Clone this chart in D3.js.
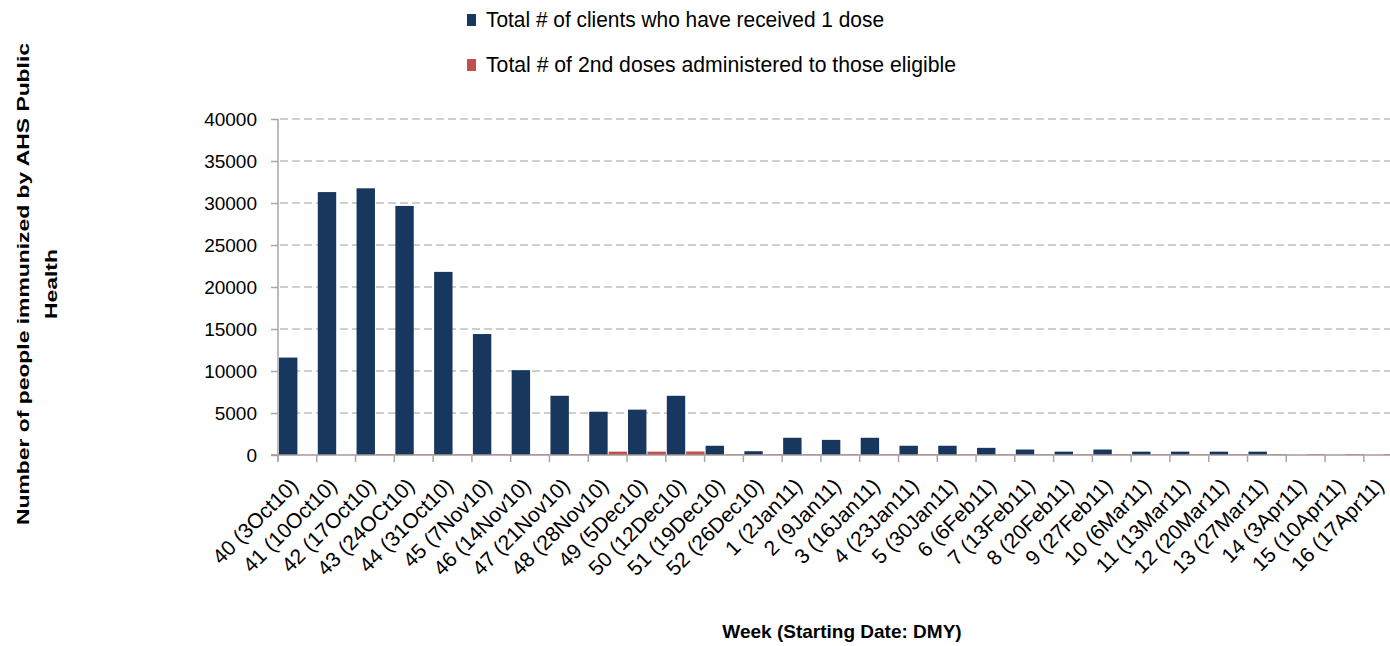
<!DOCTYPE html>
<html>
<head>
<meta charset="utf-8">
<script src="https://cdn.jsdelivr.net/npm/d3@7"></script>
<style>
  body { margin: 0; background: #fff; }
  svg { display: block; }
  text { font-family: "Liberation Sans", Arial, sans-serif; }
</style>
</head>
<body>
<div id="chart"></div>
<script>
// week labels (starting date DMY)
const weeks = ['40 (3Oct10)', '41 (10Oct10)', '42 (17Oct10)', '43 (24OCt10)', '44 (31Oct10)',
    '45 (7Nov10)', '46 (14Nov10)', '47 (21Nov10)', '48 (28Nov10)', '49 (5Dec10)', '50 (12Dec10)',
    '51 (19Dec10)', '52 (26Dec10)', '1 (2Jan11)', '2 (9Jan11)', '3 (16Jan11)', '4 (23Jan11)',
    '5 (30Jan11)', '6 (6Feb11)', '7 (13Feb11)', '8 (20Feb11)', '9 (27Feb11)', '10 (6Mar11)',
    '11 (13Mar11)', '12 (20Mar11)', '13 (27Mar11)', '14 (3Apr11)', '15 (10Apr11)', '16 (17Apr11)']

const firstDose = [11600, 31300, 31750, 29650, 21800, 14400, 10100, 7050, 5150, 5400, 7050,
    1100, 450, 2050, 1800, 2050, 1100, 1100, 850, 650, 400, 650, 400, 400, 400, 400, 0, 0, 0]

const secondDose = [0, 0, 80, 80, 80, 80, 80, 80, 400, 400, 420,
    80, 80, 80, 80, 80, 80, 80, 80, 80, 80, 80, 80, 80, 80, 80, 80, 80, 80]

const seriesNames = ['Total # of clients who have received 1 dose',
    'Total # of 2nd doses administered to those eligible']
const seriesColors = ['#17375e', '#c0504d']

const yTicks = [0, 5000, 10000, 15000, 20000, 25000, 30000, 35000, 40000]

const W = 1390, H = 646
const plotLeft = 278, plotTop = 119, plotBottom = 455, step = 38.78

const svg = d3.select('#chart')
    .append('svg')
    .attr('width', W)
    .attr('height', H)

const x = d3.scaleBand()
    .domain(weeks)
    .range([plotLeft, plotLeft + step * weeks.length])
    .padding(0)

const x1 = d3.scaleBand()
    .domain([0, 1])
    .range([1, x.bandwidth()])
    .paddingInner(0.05)

const y = d3.scaleLinear()
    .domain([0, 40000])
    .range([plotBottom, plotTop])

// dashed gridlines
svg.append('g')
    .attr('class', 'grid')
    .selectAll('line')
    .data(yTicks.slice(1))
    .enter()
    .append('line')
    .attr('x1', plotLeft + 2)
    .attr('x2', W)
    .attr('y1', d => y(d))
    .attr('y2', d => y(d))
    .attr('stroke', '#bfbfbf')
    .attr('stroke-width', 1.5)
    .attr('stroke-dasharray', '8,4')

// bars
const rows = weeks.map((w, i) => ({ week: w, values: [firstDose[i], secondDose[i]] }))

svg.append('g')
    .attr('class', 'bars')
    .selectAll('g')
    .data(rows)
    .enter()
    .append('g')
    .attr('transform', d => 'translate(' + x(d.week) + ',0)')
    .selectAll('rect')
    .data(d => d.values.map((v, k) => ({ k: k, v: v })))
    .enter()
    .append('rect')
    .attr('x', d => x1(d.k))
    .attr('y', d => y(d.v))
    .attr('width', x1.bandwidth())
    .attr('height', d => plotBottom - y(d.v))
    .attr('fill', d => seriesColors[d.k])

// y axis
const yAxis = svg.append('g')
    .attr('class', 'y-axis')
    .attr('transform', 'translate(' + plotLeft + ',0)')
    .call(d3.axisLeft(y).tickValues(yTicks).tickSize(7).tickPadding(14).tickFormat(d3.format('d')))

yAxis.select('.domain').attr('stroke', '#a6a6a6').attr('stroke-width', 1.5)
    .attr('d', 'M0,' + plotTop + 'V' + (plotBottom + 6))
yAxis.selectAll('.tick line').attr('stroke', '#a6a6a6').attr('stroke-width', 1.5)
yAxis.selectAll('.tick text')
    .attr('font-size', 19)
    .attr('fill', '#000')

// x axis with ticks on category boundaries
const xAxis = svg.append('g')
    .attr('class', 'x-axis')

xAxis.append('line')
    .attr('x1', plotLeft - 7)
    .attr('x2', W)
    .attr('y1', plotBottom)
    .attr('y2', plotBottom)
    .attr('stroke', '#a69a9a')
    .attr('stroke-width', 1.5)

xAxis.selectAll('.bound')
    .data(weeks)
    .enter()
    .append('line')
    .attr('class', 'bound')
    .attr('x1', d => x(d))
    .attr('x2', d => x(d))
    .attr('y1', plotBottom)
    .attr('y2', plotBottom + 7)
    .attr('stroke', '#a6a6a6')
    .attr('stroke-width', 1.5)

xAxis.selectAll('.label')
    .data(weeks)
    .enter()
    .append('text')
    .attr('class', 'label')
    .attr('transform', d => 'translate(' + (x(d) + x.bandwidth() / 2 + 2) + ',' + 487 + ') rotate(-45)')
    .attr('text-anchor', 'end')
    .attr('font-size', 21)
    .attr('fill', '#000')
    .text(d => d)

// axis titles
svg.append('text')
    .attr('x', 842)
    .attr('y', 638)
    .attr('text-anchor', 'middle')
    .attr('font-weight', 'bold')
    .attr('font-size', 19)
    .text('Week (Starting Date: DMY)')

const yTitle = svg.append('g')
    .attr('transform', 'translate(0,284) rotate(-90)')

yTitle.append('text')
    .attr('x', 0)
    .attr('y', 29)
    .attr('text-anchor', 'middle')
    .attr('font-weight', 'bold')
    .attr('font-size', 17)
    .attr('textLength', 482)
    .attr('lengthAdjust', 'spacingAndGlyphs')
    .text('Number of people immunized by AHS Public')

yTitle.append('text')
    .attr('x', 0)
    .attr('y', 57)
    .attr('text-anchor', 'middle')
    .attr('font-weight', 'bold')
    .attr('font-size', 17)
    .attr('textLength', 70)
    .attr('lengthAdjust', 'spacingAndGlyphs')
    .text('Health')

// legend
const legendWidths = [398, 470]

const legend = svg.append('g')
    .attr('class', 'legend')
    .selectAll('g')
    .data(seriesNames)
    .enter()
    .append('g')
    .attr('transform', (d, i) => 'translate(467,' + (14 + i * 45) + ')')

legend.append('rect')
    .attr('width', 9)
    .attr('height', 12)
    .attr('fill', (d, i) => seriesColors[i])

legend.append('text')
    .attr('x', 19)
    .attr('y', 13)
    .attr('font-size', 22)
    .attr('fill', '#000')
    .attr('textLength', (d, i) => legendWidths[i])
    .attr('lengthAdjust', 'spacingAndGlyphs')
    .text(d => d)
</script>
</body>
</html>
